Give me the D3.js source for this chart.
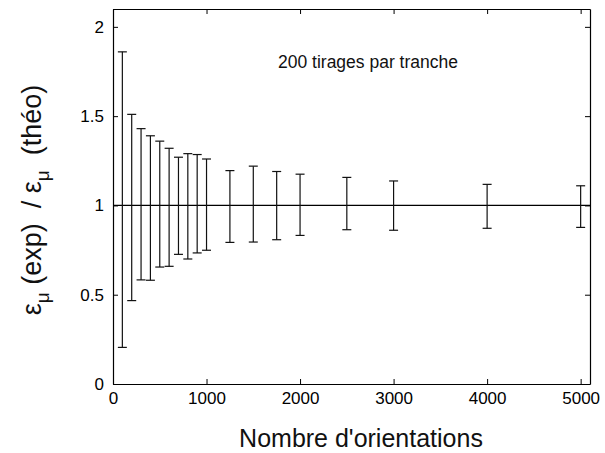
<!DOCTYPE html>
<html>
<head>
<meta charset="utf-8">
<script src="https://cdn.jsdelivr.net/npm/d3@7"></script>
<style>
  body { margin: 0; background: #fff; }
  svg { font-family: "Liberation Sans", Arial, sans-serif; }
</style>
</head>
<body>
<svg id="drawing_region"></svg>
<script>
// number of orientations per batch
const orientations = [100, 200, 300, 400, 500, 600, 700, 800, 900, 1000,
                      1250, 1500, 1750, 2000, 2500, 3000, 4000, 5000];
// upper / lower end of each error bar (ratio exp / theo)
const upper = [1.86, 1.51, 1.43, 1.39, 1.36, 1.32, 1.27, 1.29, 1.285, 1.26,
               1.195, 1.22, 1.19, 1.175, 1.157, 1.137, 1.118, 1.11];
const lower = [0.205, 0.467, 0.583, 0.581, 0.655, 0.659, 0.726, 0.70, 0.734, 0.749,
               0.793, 0.795, 0.808, 0.832, 0.864, 0.861, 0.872, 0.877];
const xticks = [0, 1000, 2000, 3000, 4000, 5000];
const yticks = [0, 0.5, 1, 1.5, 2];

const data = orientations.map((n, i) => ({n: n, hi: upper[i], lo: lower[i]}));

const config = {
    width: 605,
    height: 453,
    margin: {top: 9, right: 15, bottom: 69, left: 113}
};

const svg = d3.select('#drawing_region')
    .attr('width', config.width)
    .attr('height', config.height);

const inner_width = config.width - config.margin.left - config.margin.right;
const inner_height = config.height - config.margin.top - config.margin.bottom;

const chart = svg.append('g')
    .attr('transform', `translate(${config.margin.left}, ${config.margin.top})`);

const xscale = d3.scaleLinear().domain([0, 5100]).range([0, inner_width]);
const yscale = d3.scaleLinear().domain([0, 2.1]).range([inner_height, 0]);

// axes: ticks pointing inward, on all four sides
const plain = d => String(d);
const xaxis_bottom = d3.axisBottom(xscale).tickValues(xticks).tickFormat(plain).tickSizeInner(-5).tickSizeOuter(0).tickPadding(8);
const xaxis_top = d3.axisTop(xscale).tickValues(xticks).tickSizeInner(-5).tickSizeOuter(0).tickFormat('');
const yaxis_left = d3.axisLeft(yscale).tickValues(yticks).tickFormat(plain).tickSizeInner(-5).tickSizeOuter(0).tickPadding(9);
const yaxis_right = d3.axisRight(yscale).tickValues(yticks).tickSizeInner(-5).tickSizeOuter(0).tickFormat('');

chart.append('g').attr('transform', `translate(0, ${inner_height})`).call(xaxis_bottom);
chart.append('g').call(xaxis_top);
chart.append('g').call(yaxis_left);
chart.append('g').attr('transform', `translate(${inner_width}, 0)`).call(yaxis_right);

chart.selectAll('.domain').attr('stroke', '#000').attr('stroke-width', 1.2);
chart.selectAll('.tick line').attr('stroke', '#000');
chart.selectAll('.tick text')
    .attr('font-size', '17px')
    .attr('fill', '#000');

// reference line at ratio = 1
chart.append('line')
    .attr('x1', 0).attr('x2', inner_width)
    .attr('y1', yscale(1)).attr('y2', yscale(1))
    .attr('stroke', '#000').attr('stroke-width', 1.2);

// error bars
const cap = 4.5;
const bars = chart.selectAll('.bar').data(data).enter().append('g').attr('class', 'bar')
    .attr('stroke', '#111').attr('stroke-width', 1.2);
bars.append('line')
    .attr('x1', d => xscale(d.n)).attr('x2', d => xscale(d.n))
    .attr('y1', d => yscale(d.lo)).attr('y2', d => yscale(d.hi));
bars.append('line')
    .attr('x1', d => xscale(d.n) - cap).attr('x2', d => xscale(d.n) + cap)
    .attr('y1', d => yscale(d.hi)).attr('y2', d => yscale(d.hi));
bars.append('line')
    .attr('x1', d => xscale(d.n) - cap).attr('x2', d => xscale(d.n) + cap)
    .attr('y1', d => yscale(d.lo)).attr('y2', d => yscale(d.lo));

// annotation
svg.append('text')
    .attr('x', 278)
    .attr('y', 68)
    .attr('font-size', '17.5px')
    .attr('fill', '#111')
    .text('200 tirages par tranche');

// x label
svg.append('text')
    .attr('x', 361)
    .attr('y', 447)
    .attr('text-anchor', 'middle')
    .attr('font-size', '25px')
    .attr('fill', '#111')
    .text("Nombre d'orientations");

// y label with subscripts
const ylab = svg.append('text')
    .attr('transform', 'translate(41, 200) rotate(-90)')
    .attr('text-anchor', 'middle')
    .attr('font-size', '27px')
    .attr('fill', '#111');
ylab.append('tspan').text('ε');
ylab.append('tspan').attr('dy', 8).attr('font-size', '19px').text('μ');
ylab.append('tspan').attr('dy', -8).text('\u00a0(exp) \u00a0/ ε');
ylab.append('tspan').attr('dy', 8).attr('font-size', '19px').text('μ');
ylab.append('tspan').attr('dy', -8).text('\u00a0\u00a0(théo)');
</script>
</body>
</html>
